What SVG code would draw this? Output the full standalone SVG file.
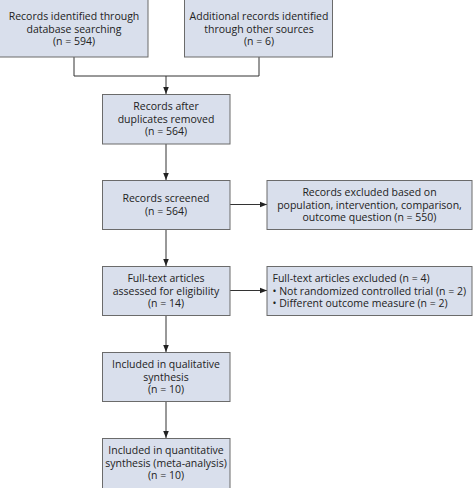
<svg xmlns="http://www.w3.org/2000/svg" width="474" height="488" viewBox="0 0 474 488">
<defs>
<style>
.box{fill:#d9dfec;stroke:#6b6b6b;stroke-width:1}
.t{font-family:"Open Sans","Liberation Sans",sans-serif;font-size:10.5px;fill:#222}
.c{text-anchor:middle}
.ln{fill:none;stroke:#333;stroke-width:1}
</style>
<marker id="ah" viewBox="0 0 8 8" refX="8" refY="4" markerWidth="7" markerHeight="7" orient="auto" markerUnits="userSpaceOnUse">
<path d="M0,0.8 L8,4 L0,7.2 Z" fill="#222"/>
</marker>
</defs>
<rect width="474" height="488" fill="#fff"/>
<g id="connectors">
<path class="ln" d="M74,57 V76 H259 V57"/>
<path class="ln" d="M166,76 V94" marker-end="url(#ah)"/>
<path class="ln" d="M166,144 V180" marker-end="url(#ah)"/>
<path class="ln" d="M166,229 V266" marker-end="url(#ah)"/>
<path class="ln" d="M166,315 V352" marker-end="url(#ah)"/>
<path class="ln" d="M166,401 V438" marker-end="url(#ah)"/>
<path class="ln" d="M230,204.5 H267" marker-end="url(#ah)"/>
<path class="ln" d="M230,290.5 H267" marker-end="url(#ah)"/>
</g>
<g id="n1">
<rect class="box" x="-1" y="-1" width="149" height="58"/>
<text class="t c" x="74" y="20">Records identified through</text>
<text class="t c" x="74" y="32.5">database searching</text>
<text class="t c" x="74" y="45">(n = 594)</text>
</g>
<g id="n2">
<rect class="box" x="184.5" y="-1" width="148" height="58"/>
<text class="t c" x="259" y="20">Additional records identified</text>
<text class="t c" x="259" y="32.5">through other sources</text>
<text class="t c" x="259" y="45">(n = 6)</text>
</g>
<g id="n3">
<rect class="box" x="102.5" y="94.5" width="127.5" height="49.5"/>
<text class="t c" x="166" y="110">Records after</text>
<text class="t c" x="166" y="122.5">duplicates removed</text>
<text class="t c" x="166" y="135">(n = 564)</text>
</g>
<g id="n4">
<rect class="box" x="102.5" y="180.5" width="127.5" height="49"/>
<text class="t c" x="166" y="202">Records screened</text>
<text class="t c" x="166" y="214.5">(n = 564)</text>
</g>
<g id="n5">
<rect class="box" x="267" y="180.5" width="205" height="49"/>
<text class="t c" x="369.5" y="196">Records excluded based on</text>
<text class="t c" x="369.5" y="208.5">population, intervention, comparison,</text>
<text class="t c" x="369.5" y="221">outcome question (n = 550)</text>
</g>
<g id="n6">
<rect class="box" x="102.5" y="266.5" width="127.5" height="49"/>
<text class="t c" x="166" y="282">Full-text articles</text>
<text class="t c" x="166" y="294.5">assessed for eligibility</text>
<text class="t c" x="166" y="307">(n = 14)</text>
</g>
<g id="n7">
<rect class="box" x="267" y="266.5" width="205" height="49"/>
<text class="t" x="272.5" y="282">Full-text articles excluded (n = 4)</text>
<text class="t" x="272.5" y="294.5">• Not randomized controlled trial (n = 2)</text>
<text class="t" x="272.5" y="307">• Different outcome measure (n = 2)</text>
</g>
<g id="n8">
<rect class="box" x="102.5" y="352.5" width="127.5" height="49"/>
<text class="t c" x="166" y="368">Included in qualitative</text>
<text class="t c" x="166" y="380.5">synthesis</text>
<text class="t c" x="166" y="393">(n = 10)</text>
</g>
<g id="n9">
<rect class="box" x="102.5" y="438.5" width="127.5" height="55"/>
<text class="t c" x="166" y="454">Included in quantitative</text>
<text class="t c" x="166" y="466.5">synthesis (meta-analysis)</text>
<text class="t c" x="166" y="479">(n = 10)</text>
</g>
</svg>
